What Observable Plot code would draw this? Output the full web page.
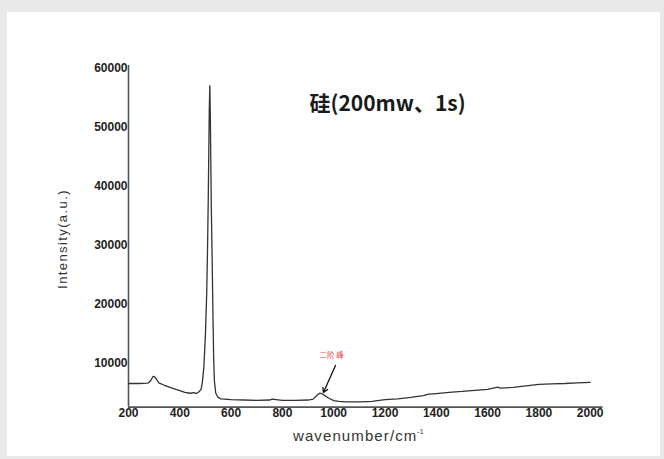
<!DOCTYPE html>
<html>
<head>
<meta charset="utf-8">
<script src="https://cdn.jsdelivr.net/npm/d3@7"></script>
<script src="https://cdn.jsdelivr.net/npm/@observablehq/plot@0.6"></script>
<style>
  html, body { margin: 0; padding: 0; width: 664px; height: 459px; overflow: hidden; background: #e9e9e9; }
  #panel { position: absolute; left: 7px; top: 12px; width: 653px; height: 444px; background: #ffffff; }
  #chart { position: absolute; left: 0; top: 0; }
  .ylabel { position: absolute; left: 62px; top: 239px; transform: translate(-50%, -50%) rotate(-90deg);
            font-family: "Liberation Sans", Arial, sans-serif; font-size: 13px; letter-spacing: 1.4px; color: #333; white-space: nowrap; }
  .xlabel { position: absolute; left: 293px; top: 427px; font-family: "Liberation Sans", Arial, sans-serif;
            font-size: 15px; letter-spacing: 1.1px; color: #333; white-space: nowrap; }
  .xlabel sup { font-size: 7px; vertical-align: 7px; letter-spacing: 0; }
</style>
</head>
<body>
<div id="panel"></div>
<div id="chart"></div>
<div class="ylabel">Intensity(a.u.)</div>
<div class="xlabel">wavenumber/cm<sup>-1</sup></div>
<script>
// Raman spectrum of silicon
const wavenumber = [200, 240, 275, 285, 295, 300, 308, 318, 340, 370, 400, 420, 440, 455, 465, 475,
  483, 488, 494, 500, 505, 508, 511, 513, 515, 517, 519, 521, 523, 526, 529, 532, 535, 540, 548, 560,
  600, 650, 700, 750, 760, 800, 850, 900, 920, 935, 945, 955, 965, 980, 1000, 1020, 1050, 1100, 1150,
  1200, 1250, 1300, 1350, 1370, 1400, 1450, 1500, 1550, 1600, 1640, 1650, 1700, 1750, 1800, 1850, 1900, 1950, 2000];
const intensity = [6600, 6600, 6650, 7000, 7750, 7800, 7400, 6700, 6300, 5800, 5400, 5100, 4950, 5050, 4900, 5200,
  5600, 6800, 9500, 15000, 22000, 29000, 38000, 46000, 53000, 57100, 52000, 44000, 36000, 28000, 19000, 11000, 7000, 5000, 4300, 4000,
  3850, 3800, 3750, 3800, 3950, 3750, 3750, 3800, 3950, 4600, 4950, 4850, 4550, 4150, 3700, 3560, 3500, 3500, 3560,
  3850, 4000, 4250, 4550, 4800, 4900, 5100, 5250, 5450, 5600, 6000, 5800, 5950, 6200, 6450, 6550, 6600, 6700, 6780];

const xDomain = [200, 2050];
const yDomain = [2600, 60500];
const xTicks = [200, 400, 600, 800, 1000, 1200, 1400, 1600, 1800, 2000];
const yTicks = [10000, 20000, 30000, 40000, 50000, 60000];

const titleText = ["硅(200mw、1s)"];
const titlePos = [1210, 54000];
const noteText = ["二阶 峰"];
const notePos = [945, 11360];
const arrowFrom = [1007, 9660];
const arrowTo = [960, 5080];

const spectrum = wavenumber.map((w, i) => ({w, v: intensity[i]}));

const chart = Plot.plot({
  width: 664,
  height: 459,
  marginLeft: 128,
  marginRight: 61.5,
  marginTop: 65,
  marginBottom: 52.4,
  style: {background: "transparent", fontFamily: "Liberation Sans, Arial, sans-serif", overflow: "visible"},
  x: {domain: xDomain, ticks: xTicks, tickFormat: d => String(d), tickSize: 0, tickPadding: 1, label: null},
  y: {domain: yDomain, ticks: yTicks, tickFormat: d => String(d), tickSize: 0, tickPadding: 1, label: null},
  marks: [
    Plot.axisX({ticks: xTicks, tickFormat: d => String(d), tickSize: 0, tickPadding: 1, label: null,
      fontSize: 12, fontWeight: "bold", fill: "#222"}),
    Plot.axisY({ticks: yTicks, tickFormat: d => String(d), tickSize: 0, tickPadding: 1, label: null,
      fontSize: 12, fontWeight: "bold", fill: "#222"}),
    Plot.ruleX([xDomain[0]], {stroke: "#555", strokeWidth: 1.6}),
    Plot.ruleY([yDomain[0]], {stroke: "#555", strokeWidth: 1.6}),
    Plot.line(spectrum, {x: "w", y: "v", stroke: "#333", strokeWidth: 1.3}),
    Plot.text(titleText, {x: () => titlePos[0], y: () => titlePos[1], text: d => d,
      fontSize: 21, fontWeight: "bold", fill: "#1a1a1a", fontFamily: "Noto Sans CJK SC, sans-serif", letterSpacing: 0.4}),
    Plot.text(noteText, {x: () => notePos[0], y: () => notePos[1], text: d => d, textAnchor: "start",
      fontSize: 7.5, fill: "#e04a4a", fontFamily: "Noto Sans CJK SC, sans-serif", letterSpacing: 3}),
    Plot.arrow([0], {x1: () => arrowFrom[0], y1: () => arrowFrom[1], x2: () => arrowTo[0], y2: () => arrowTo[1],
      stroke: "#111", strokeWidth: 1.3, headLength: 6})
  ]
});
document.getElementById("chart").appendChild(chart);
</script>
</body>
</html>
